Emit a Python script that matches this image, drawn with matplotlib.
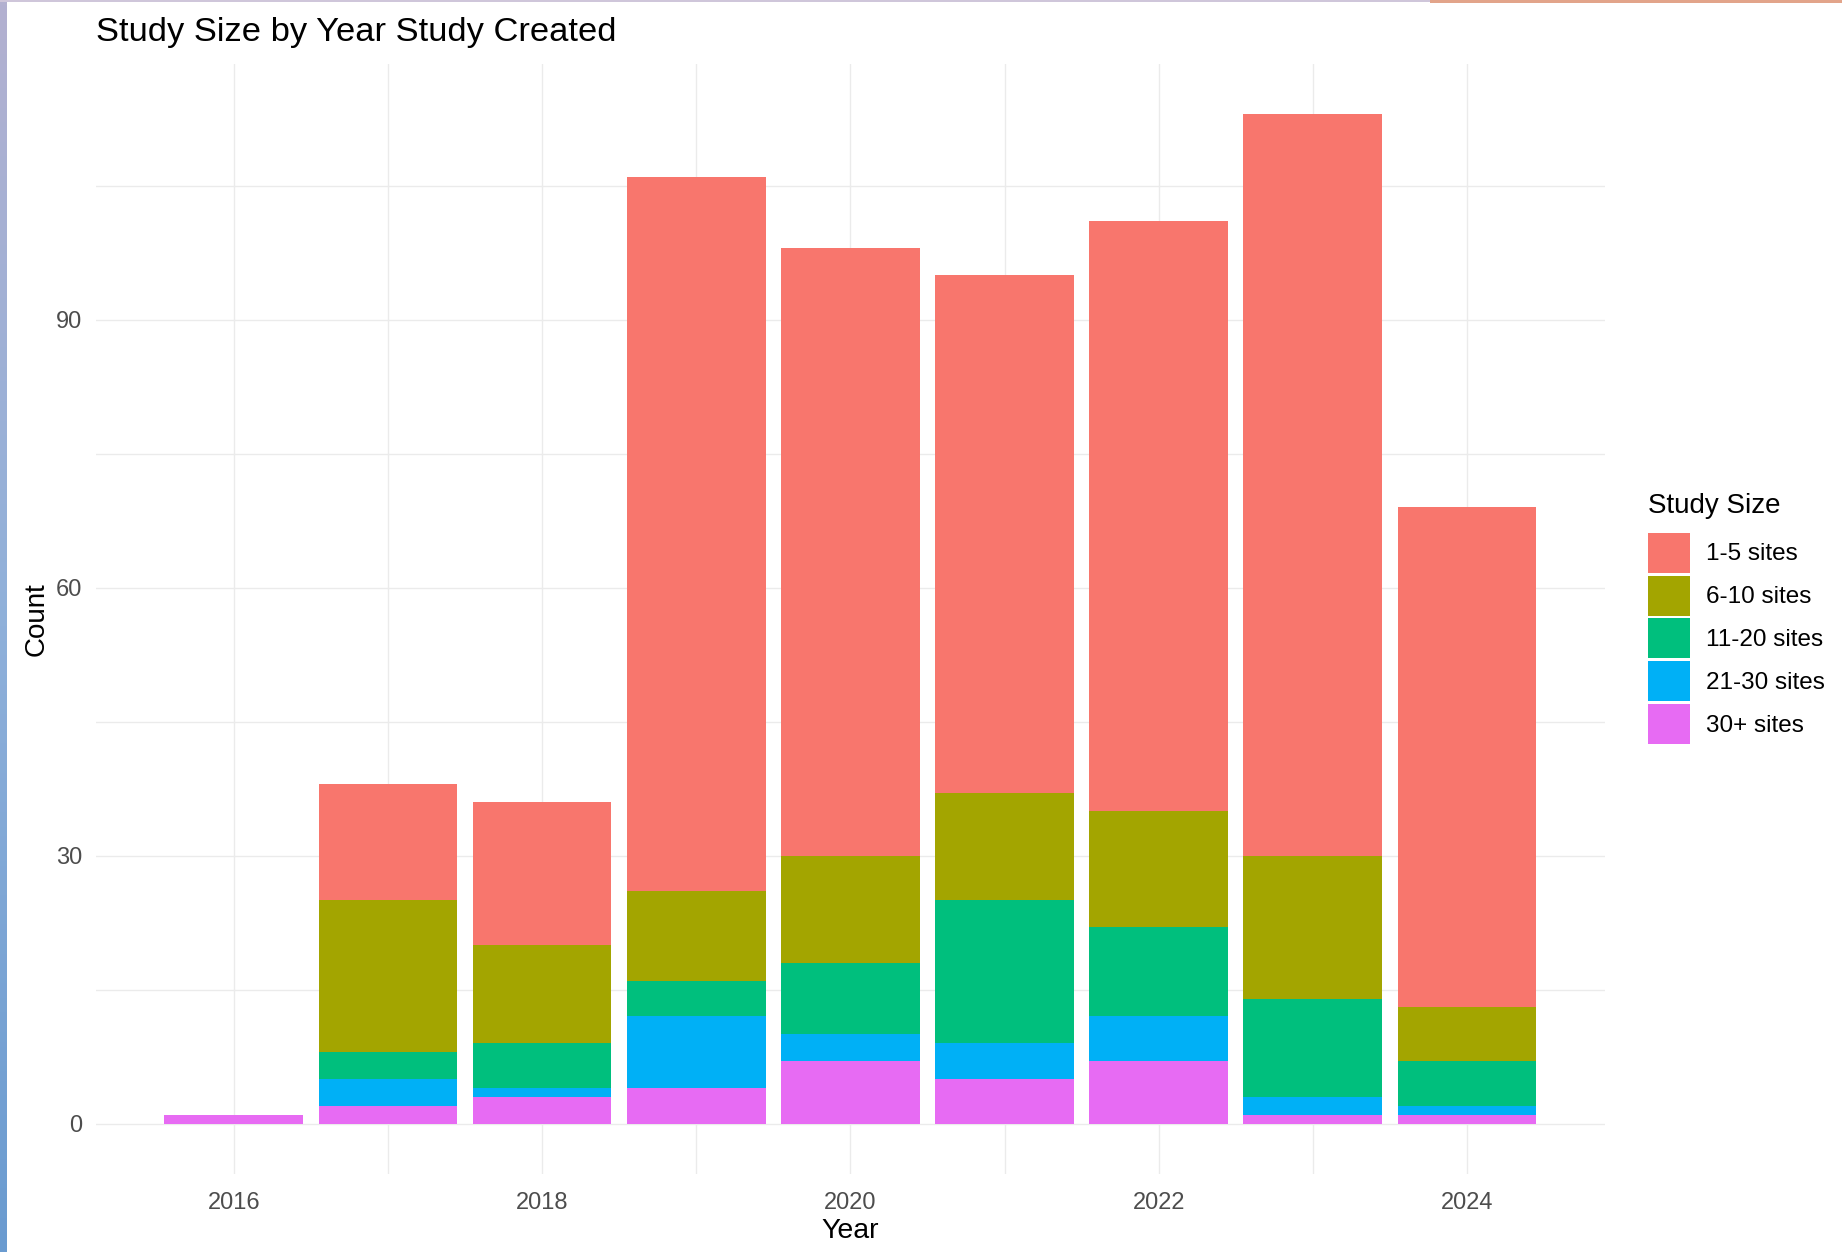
import numpy as np
import matplotlib
matplotlib.use('Agg')
import matplotlib.pyplot as plt
from matplotlib.ticker import FixedLocator
from matplotlib.patches import Rectangle
from matplotlib.colors import LinearSegmentedColormap

plt.rcParams['font.family'] = ['Liberation Sans', 'DejaVu Sans']

# counts per year
years = [2016, 2017, 2018, 2019, 2020, 2021, 2022, 2023, 2024]
size_labels = ['1-5 sites', '6-10 sites', '11-20 sites', '21-30 sites', '30+ sites']
sites_1_5 = [0, 13, 16, 80, 68, 58, 66, 83, 56]
sites_6_10 = [0, 17, 11, 10, 12, 12, 13, 16, 6]
sites_11_20 = [0, 3, 5, 4, 8, 16, 10, 11, 5]
sites_21_30 = [0, 3, 1, 8, 3, 4, 5, 2, 1]
sites_30_plus = [1, 2, 3, 4, 7, 5, 7, 1, 1]

colors = ['#F8766D', '#A3A500', '#00BF7D', '#00B0F6', '#E76BF3']
series = [sites_1_5, sites_6_10, sites_11_20, sites_21_30, sites_30_plus]

W, H = 1842, 1252
fig = plt.figure(figsize=(W / 100, H / 100), dpi=100)
ax = fig.add_axes([0.052, 0.0623, 0.8193, 0.8867])

# stack from the last level (30+) at the bottom up to 1-5 on top
bottom = np.zeros(len(years))
handles = {}
for lab, vals, col in reversed(list(zip(size_labels, series, colors))):
    b = ax.bar(years, vals, width=0.9, bottom=bottom, color=col, label=lab, linewidth=0)
    handles[lab] = b
    bottom += np.array(vals)

ax.set_xlim(2015.105, 2024.895)
ax.set_ylim(-5.65, 118.65)

ax.xaxis.set_major_locator(FixedLocator([2016, 2018, 2020, 2022, 2024]))
ax.xaxis.set_minor_locator(FixedLocator([2017, 2019, 2021, 2023]))
ax.yaxis.set_major_locator(FixedLocator([0, 30, 60, 90]))
ax.yaxis.set_minor_locator(FixedLocator([15, 45, 75, 105]))

ax.grid(which='both', color='#EBEBEB', linewidth=1.0)
ax.set_axisbelow(True)
for s in ax.spines.values():
    s.set_visible(False)
ax.tick_params(which='both', length=0)
ax.tick_params(axis='x', labelsize=17, labelcolor='#4D4D4D', pad=13)
ax.tick_params(axis='y', labelsize=17, labelcolor='#4D4D4D', pad=10)

ax.set_xlabel('Year', fontsize=20.5, labelpad=3)
ax.set_ylabel('Count', fontsize=20, labelpad=4)

fig.text(0.052, 1 - 32 / H, 'Study Size by Year Study Created', fontsize=24.8,
         ha='left', va='center')

leg = fig.legend([handles[l] for l in size_labels], size_labels,
                 loc='center left', bbox_to_anchor=(0.8947, 0.506),
                 frameon=False, fontsize=17.5, title='Study Size', title_fontsize=20,
                 handlelength=1.72, handleheight=2.15, labelspacing=0.12,
                 handletextpad=0.65, borderpad=0, borderaxespad=0)
leg._legend_box.align = 'left'
leg._legend_box.sep = 10

# screenshot edges: thin strip on the left and a line along the top
strip = fig.add_axes([0, 0, 6 / W, 1])
grad = LinearSegmentedColormap.from_list('edge', ['#6A9BD0', '#8FB0DA', '#B3B1D0'])
strip.imshow(np.linspace(0, 1, 256)[::-1].reshape(-1, 1), aspect='auto', cmap=grad)
strip.axis('off')
fig.add_artist(Rectangle((0, 1 - 2 / H), 1430 / W, 2 / H, transform=fig.transFigure,
                         color='#CFC6DA', lw=0))
fig.add_artist(Rectangle((1430 / W, 1 - 3 / H), 1 - 1430 / W, 3 / H,
                         transform=fig.transFigure, color='#E2A48A', lw=0))

plt.savefig('out.png', dpi=100)
